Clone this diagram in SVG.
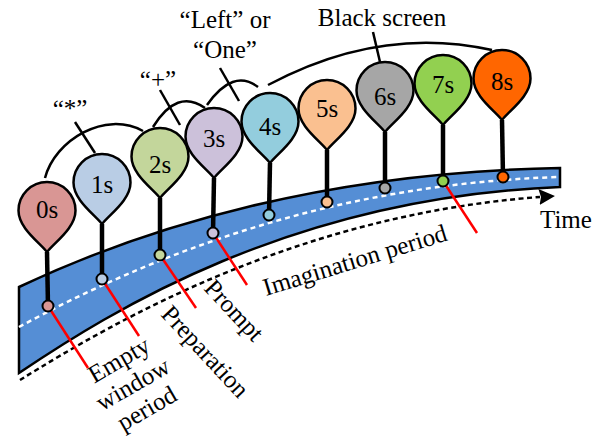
<svg xmlns="http://www.w3.org/2000/svg" width="608" height="445" viewBox="0 0 608 445">
<style>
.t{font-family:'Liberation Serif',serif;font-size:25px;fill:#000}
.m{text-anchor:middle}
.arc{fill:none;stroke:#000;stroke-width:2.5}
.red{stroke:#FF0000;stroke-width:2.5}
.stem{stroke:#000;stroke-width:4.5}
.bal{stroke:#000;stroke-width:2.5}
.dot{stroke:#000;stroke-width:2}
.c0{fill:#D99694}.c1{fill:#B9CDE5}.c2{fill:#C3D69B}.c3{fill:#CCC1DA}.c4{fill:#93CDDD}
.c5{fill:#FAC090}.c6{fill:#A6A6A6}.c7{fill:#92D050}.c8{fill:#FF6600}
</style>
<defs>
<path id="balloon" d="M0,70 C-8,60 -28.5,46 -28.5,28.5 A28.5,28.5 0 0 1 28.5,28.5 C28.5,46 8,60 0,70 Z"/>
<marker id="arrow" markerUnits="userSpaceOnUse" markerWidth="20" markerHeight="20" refX="1" refY="10" orient="auto">
<path d="M0,2 L16,10 L0,18 L2,10 Z" fill="#000"/>
</marker>
</defs>
<rect width="608" height="445" fill="#FFFFFF"/>
<path id="band" d="M19,287 C150,225 330,172 560,168 L560,187 C290,198 110,312 19,373 Z" fill="#558ED5" stroke="#000" stroke-width="2.5"/>
<path d="M19,327 C150,256 330,184 560,177" fill="none" stroke="#FFFFFF" stroke-width="2.5" stroke-dasharray="5,4"/>

<g id="connectors">
<path d="M20,380 C120,318 300,215 540,197" fill="none" stroke="#000" stroke-width="2.5" stroke-dasharray="5,3.5" marker-end="url(#arrow)"/>
<line class="red" x1="48" y1="306" x2="88" y2="368"/>
<line class="red" x1="102" y1="279" x2="139" y2="336"/>
<line class="red" x1="160" y1="255" x2="196" y2="308"/>
<line class="red" x1="213" y1="233" x2="247" y2="285"/>
<line class="red" x1="443" y1="181" x2="477" y2="233"/>
<path class="arc" d="M45,178 C55,140 105,110 143,131"/>
<path class="arc" d="M153,127 Q177,88 205,108"/>
<path class="arc" d="M207,105 Q233,68 258,87"/>
<path class="arc" d="M268,85 Q380,25 492,50"/>
<line class="arc" x1="75" y1="122" x2="95" y2="153"/>
<line class="arc" x1="160" y1="90" x2="180" y2="125"/>
<line class="arc" x1="220" y1="68" x2="239" y2="101"/>
<line class="arc" x1="373" y1="32" x2="380" y2="62"/>
</g>

<g id="n0s"><line class="stem" x1="47" y1="252" x2="48" y2="306"/><use href="#balloon" class="bal c0" transform="translate(47,182)"/><circle class="dot c0" cx="48" cy="306" r="5.5"/><text class="t m" font-family="Liberation Serif" font-size="25" x="47" y="218">0s</text></g>
<g id="n1s"><line class="stem" x1="102" y1="224" x2="102" y2="279"/><use href="#balloon" class="bal c1" transform="translate(102,154)"/><circle class="dot c1" cx="102" cy="279" r="5.5"/><text class="t m" font-family="Liberation Serif" font-size="25" x="102" y="193">1s</text></g>
<g id="n2s"><line class="stem" x1="160" y1="198" x2="160" y2="255"/><use href="#balloon" class="bal c2" transform="translate(160,128)"/><circle class="dot c2" cx="160" cy="255" r="5.5"/><text class="t m" font-family="Liberation Serif" font-size="25" x="160" y="173">2s</text></g>
<g id="n3s"><line class="stem" x1="214" y1="178" x2="213" y2="233"/><use href="#balloon" class="bal c3" transform="translate(214,108)"/><circle class="dot c3" cx="213" cy="233" r="5.5"/><text class="t m" font-family="Liberation Serif" font-size="25" x="214" y="147">3s</text></g>
<g id="n4s"><line class="stem" x1="270" y1="163" x2="269" y2="215"/><use href="#balloon" class="bal c4" transform="translate(270,93)"/><circle class="dot c4" cx="269" cy="215" r="5.5"/><text class="t m" font-family="Liberation Serif" font-size="25" x="270" y="135">4s</text></g>
<g id="n5s"><line class="stem" x1="327" y1="150" x2="327" y2="202"/><use href="#balloon" class="bal c5" transform="translate(327,80)"/><circle class="dot c5" cx="327" cy="202" r="5.5"/><text class="t m" font-family="Liberation Serif" font-size="25" x="327" y="117">5s</text></g>
<g id="n6s"><line class="stem" x1="385" y1="132" x2="385" y2="188"/><use href="#balloon" class="bal c6" transform="translate(385,62)"/><circle class="dot c6" cx="385" cy="188" r="5.5"/><text class="t m" font-family="Liberation Serif" font-size="25" x="385" y="105">6s</text></g>
<g id="n7s"><line class="stem" x1="443" y1="125" x2="443" y2="181"/><use href="#balloon" class="bal c7" transform="translate(443,55)"/><circle class="dot c7" cx="443" cy="181" r="5.5"/><text class="t m" font-family="Liberation Serif" font-size="25" x="443" y="93">7s</text></g>
<g id="n8s"><line class="stem" x1="502" y1="120" x2="503" y2="177"/><use href="#balloon" class="bal c8" transform="translate(502,50)"/><circle class="dot c8" cx="503" cy="177" r="5.5"/><text class="t m" font-family="Liberation Serif" font-size="25" x="502" y="90">8s</text></g>

<g id="labels">
<text class="t m" font-family="Liberation Serif" font-size="25" x="70" y="117">“*”</text>
<text class="t m" font-family="Liberation Serif" font-size="25" x="158" y="88">“+”</text>
<text class="t m" font-family="Liberation Serif" font-size="25" x="225" y="28">“Left” or</text>
<text class="t m" font-family="Liberation Serif" font-size="25" x="225" y="58">“One”</text>
<text class="t m" font-family="Liberation Serif" font-size="25" x="382" y="26">Black screen</text>
<text class="t" font-family="Liberation Serif" font-size="25" x="540" y="228">Time</text>
<g transform="translate(123,367) rotate(-30)">
<text class="t m" font-family="Liberation Serif" font-size="25" x="0" y="0">Empty</text>
<text class="t m" font-family="Liberation Serif" font-size="25" x="0" y="28">window</text>
<text class="t m" font-family="Liberation Serif" font-size="25" x="0" y="56">period</text>
</g>
<text class="t" font-family="Liberation Serif" font-size="25" transform="translate(160,315) rotate(47)">Preparation</text>
<text class="t" font-family="Liberation Serif" font-size="25" transform="translate(203,289) rotate(47)">Prompt</text>
<text class="t" font-family="Liberation Serif" font-size="25" transform="translate(266,296) rotate(-17)">Imagination period</text>
</g>
</svg>
